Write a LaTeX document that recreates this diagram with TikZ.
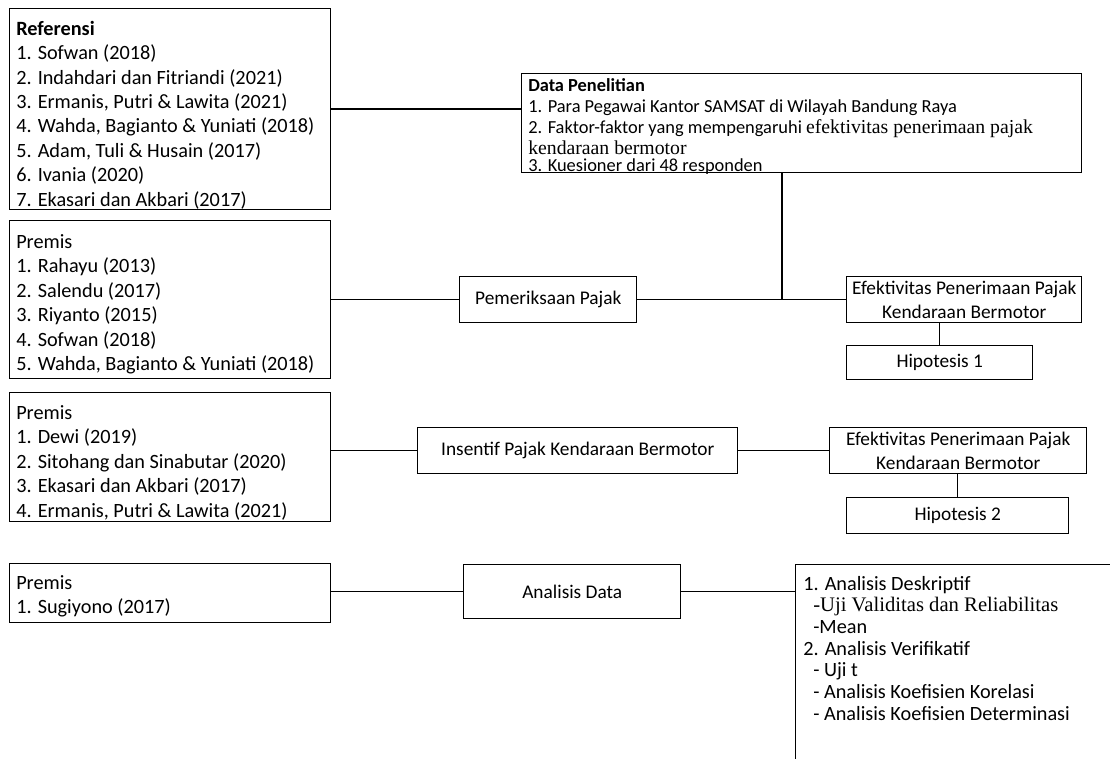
\documentclass[tikz,border=0pt]{standalone}
\usepackage{fontspec}
\setmainfont{Carlito}
\newfontfamily\tms{Liberation Serif}
\begin{document}
\begin{tikzpicture}[x=0.75pt,y=-0.75pt,
  box/.style={draw, line width=1.1pt, anchor=north west, inner sep=0pt},
  ln/.style={anchor=base west, inner sep=0pt, font=\fontsize{15.2}{17}\selectfont},
  lnd/.style={anchor=base west, inner sep=0pt, font=\fontsize{13.8}{16}\selectfont},
  ctr/.style={align=center, inner sep=0pt, font=\fontsize{14.5}{17.5}\selectfont},
  conn/.style={line width=1.1pt}]
\useasboundingbox (0,0) rectangle (1110,759);
\clip (0,0) rectangle (1110,759);
\fill[white] (0,0) rectangle (1110,759);

% boxes
\node[box, minimum width={321*0.75pt}, minimum height={201*0.75pt}] (ref) at (9,8) {};
\node[box, minimum width={560*0.75pt}, minimum height={99*0.75pt}] (data) at (521,73) {};
\node[box, minimum width={321*0.75pt}, minimum height={158*0.75pt}] (p1) at (9,220) {};
\node[box, minimum width={177*0.75pt}, minimum height={46*0.75pt}] (pem) at (459,276) {};
\node[box, minimum width={235*0.75pt}, minimum height={46*0.75pt}] (ef1) at (846,276) {};
\node[box, minimum width={186*0.75pt}, minimum height={34*0.75pt}] (h1) at (846,345) {};
\node[box, minimum width={321*0.75pt}, minimum height={129*0.75pt}] (p2) at (9,392) {};
\node[box, minimum width={320*0.75pt}, minimum height={46*0.75pt}] (ins) at (417,427) {};
\node[box, minimum width={257*0.75pt}, minimum height={46*0.75pt}] (ef2) at (829,427) {};
\node[box, minimum width={222*0.75pt}, minimum height={36*0.75pt}] (h2) at (846,497) {};
\node[box, minimum width={321*0.75pt}, minimum height={59*0.75pt}] (p3) at (9,563) {};
\node[box, minimum width={217*0.75pt}, minimum height={54*0.75pt}] (ad) at (463,564) {};
\node[box, minimum width={400*0.75pt}, minimum height={300*0.75pt}] (an) at (795,564) {};

% texts: Referensi
\foreach \t [count=\i from 0] in {{\bfseries Referensi},{1. Sofwan (2018)},{2. Indahdari dan Fitriandi (2021)},{3. Ermanis, Putri \& Lawita (2021)},{4. Wahda, Bagianto \& Yuniati (2018)},{5. Adam, Tuli \& Husain (2017)},{6. Ivania (2020)},{7. Ekasari dan Akbari (2017)}}
  \node[ln] (reft\i) at (16,{35.4+24.4*\i}) {\t};

% Premis 1
\foreach \t [count=\i from 0] in {{Premis},{1. Rahayu (2013)},{2. Salendu (2017)},{3. Riyanto (2015)},{4. Sofwan (2018)},{5. Wahda, Bagianto \& Yuniati (2018)}}
  \node[ln] (p1t\i) at (16,{248.4+24.5*\i}) {\t};

% Premis 2
\foreach \t [count=\i from 0] in {{Premis},{1. Dewi (2019)},{2. Sitohang dan Sinabutar (2020)},{3. Ekasari dan Akbari (2017)},{4. Ermanis, Putri \& Lawita (2021)}}
  \node[ln] (p2t\i) at (16,{419.4+24.5*\i}) {\t};

% Premis 3
\foreach \t [count=\i from 0] in {{Premis},{1. Sugiyono (2017)}}
  \node[ln] (p3t\i) at (16,{589.4+24*\i}) {\t};

% Data Penelitian
\node[lnd] (dt0) at (528,92) {\bfseries Data Penelitian};
\node[lnd] (dt1) at (528,113) {1. Para Pegawai Kantor SAMSAT di Wilayah Bandung Raya};
\node[lnd] (dt2) at (528,134) {2. Faktor-faktor yang mempengaruhi {\tms\fontsize{14.8}{16}\selectfont efektivitas penerimaan pajak}};
\node[lnd] (dt3) at (528,155) {\tms\fontsize{14.8}{16}\selectfont kendaraan bermotor};
\node[lnd] (dt4) at (528,172) {3. Kuesioner dari 48 responden};

% centered texts
\node[ctr] (pemt) at (pem.center) {Pemeriksaan Pajak};
\node[ctr] (ef1t) at (ef1.center) {Efektivitas Penerimaan Pajak\\Kendaraan Bermotor};
\node[ctr] (h1t) at (h1.center) {Hipotesis 1};
\node[ctr] (inst) at (ins.center) {Insentif Pajak Kendaraan Bermotor};
\node[ctr] (ef2t) at (ef2.center) {Efektivitas Penerimaan Pajak\\Kendaraan Bermotor};
\node[ctr] (h2t) at (h2.center) {Hipotesis 2};
\node[ctr] (adt) at (ad.center) {Analisis Data};

% analysis list
\foreach \t/\xx [count=\i from 0] in {{1. Analisis Deskriptif}/803,{{\tms\fontsize{15.5}{17}\selectfont -Uji Validitas dan Reliabilitas}}/813,{-Mean}/813,{2. Analisis Verifikatif}/803,{- Uji t}/813,{- Analisis Koefisien Korelasi}/813,{- Analisis Koefisien Determinasi}/813}
  \node[ln] (ant\i) at (\xx,{590+21.7*\i}) {\t};

% connectors
\coordinate (j1) at (782,299);
\draw[conn] (ref.east) -- (ref.east -| data.west);
\draw[conn] (j1 |- data.south) -- (j1);
\draw[conn] (p1.east |- pem.west) -- (pem.west);
\draw[conn] (pem.east) -- (ef1.west);
\draw[conn] (h1.north) -- (h1.north |- ef1.south);
\draw[conn] (p2.east |- ins.west) -- (ins.west);
\draw[conn] (ins.east) -- (ef2.west);
\draw[conn] (h2.north) -- (h2.north |- ef2.south);
\draw[conn] (p3.east |- ad.west) -- (ad.west);
\draw[conn] (ad.east) -- (ad.east -| an.west);
\end{tikzpicture}
\end{document}
